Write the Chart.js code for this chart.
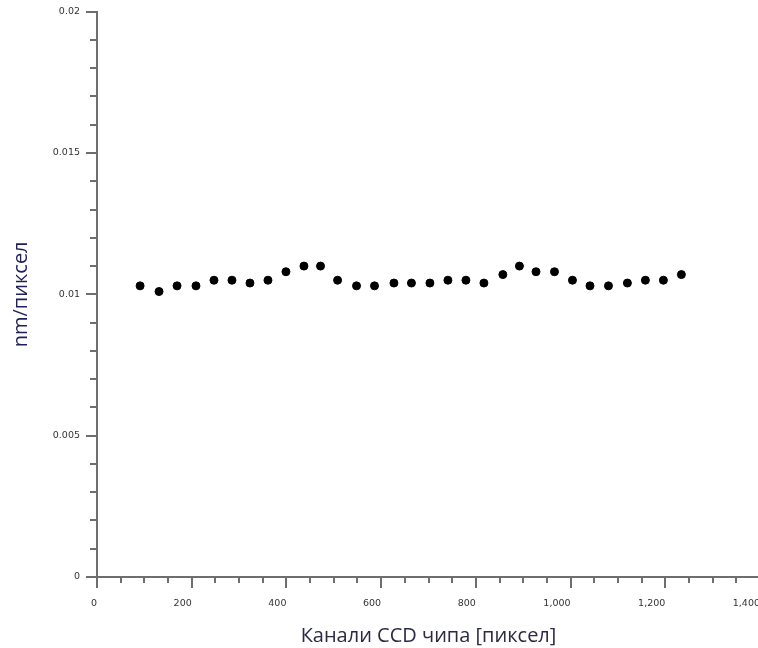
<!DOCTYPE html>
<html>
<head>
<meta charset="utf-8">
<script src="https://cdn.jsdelivr.net/npm/chart.js@4.4.1/dist/chart.umd.min.js"></script>
<style>
  html, body { margin: 0; padding: 0; background: #fff; overflow: hidden; }
  #wrap { position: absolute; left: 0; top: 0; width: 770px; height: 648px; }
</style>
</head>
<body>
<div id="wrap"><canvas id="dispersion" width="770" height="648"></canvas></div>
<script>
// CCD channel (pixel) and dispersion in nm per pixel
const channels = [91, 131, 169, 209, 247, 285, 323, 361, 399, 437, 472, 508, 548, 586, 627, 664,
                  703, 741, 779, 817, 857, 892, 927, 966, 1004, 1041, 1080, 1120, 1158, 1196, 1234];
const nmPerPixel = [0.0103, 0.0101, 0.0103, 0.0103, 0.0105, 0.0105, 0.0104, 0.0105, 0.0108, 0.0110,
                    0.0110, 0.0105, 0.0103, 0.0103, 0.0104, 0.0104, 0.0104, 0.0105, 0.0105, 0.0104,
                    0.0107, 0.0110, 0.0108, 0.0108, 0.0105, 0.0103, 0.0103, 0.0104, 0.0105, 0.0105,
                    0.0107];

// axis ranges and tick steps
const xRange = [0, 1400];
const xMajorStep = 200;
const xMinorStep = 50;
const yRange = [0, 0.02];
const yMajorStep = 0.005;
const yMinorStep = 0.001;

const axisColor = '#6e6e6e';
const tickFont = { family: 'DejaVu Sans', size: 9.5 };
const titleFont = { family: 'Open Sans', size: 20 };

const points = channels.map((c, i) => ({ x: c, y: nmPerPixel[i] }));

// short unlabelled ticks between the labelled ones
const minorTicks = {
    id: 'minorTicks',
    afterDraw(chart) {
        const { ctx, chartArea, scales } = chart;
        ctx.save();
        ctx.strokeStyle = axisColor;
        ctx.lineWidth = 2;
        ctx.beginPath();
        for (let v = xRange[0]; v <= xRange[1]; v += xMinorStep) {
            if (v % xMajorStep === 0) continue;
            const px = Math.round(scales.x.getPixelForValue(v));
            ctx.moveTo(px, chartArea.bottom);
            ctx.lineTo(px, chartArea.bottom + 6);
        }
        const n = Math.round((yRange[1] - yRange[0]) / yMinorStep);
        const per = Math.round(yMajorStep / yMinorStep);
        for (let k = 0; k <= n; k++) {
            if (k % per === 0) continue;
            const py = Math.round(scales.y.getPixelForValue(yRange[0] + k * yMinorStep));
            ctx.moveTo(chartArea.left, py);
            ctx.lineTo(chartArea.left - 7, py);
        }
        ctx.stroke();
        ctx.restore();
    }
};

new Chart(document.getElementById('dispersion'), {
    type: 'scatter',
    data: {
        datasets: [{
            data: points,
            backgroundColor: '#000',
            borderColor: '#000',
            pointRadius: 4,
            pointHoverRadius: 4
        }]
    },
    options: {
        responsive: false,
        animation: false,
        layout: { padding: { top: 9, right: 9, left: 0, bottom: 0 } },
        plugins: { legend: { display: false }, tooltip: { enabled: false } },
        scales: {
            x: {
                type: 'linear',
                min: xRange[0],
                max: xRange[1],
                afterFit(scale) { scale.height = 71; },
                border: { display: true, color: axisColor, width: 2 },
                grid: { drawOnChartArea: false, drawTicks: true, tickLength: 11, color: axisColor, lineWidth: 2 },
                ticks: {
                    stepSize: xMajorStep,
                    autoSkip: false,
                    maxRotation: 0,
                    align: 'end',
                    padding: 10,
                    color: '#333',
                    font: tickFont,
                    callback: v => v.toLocaleString('en-US')
                },
                title: {
                    display: true,
                    text: 'Канали CCD чипа [пиксел]',
                    color: '#2a2a44',
                    font: titleFont,
                    padding: { top: 0, bottom: 0 }
                }
            },
            y: {
                type: 'linear',
                min: yRange[0],
                max: yRange[1],
                afterFit(scale) { scale.width = 97; },
                border: { display: true, color: axisColor, width: 2 },
                grid: { drawOnChartArea: false, drawTicks: true, tickLength: 11, color: axisColor, lineWidth: 2 },
                ticks: {
                    stepSize: yMajorStep,
                    autoSkip: false,
                    padding: 6,
                    color: '#333',
                    font: tickFont,
                    callback: v => String(parseFloat(v.toFixed(4)))
                },
                title: {
                    display: true,
                    text: 'nm/пиксел',
                    color: '#1e1e5a',
                    font: titleFont,
                    padding: { top: 9, bottom: 0 }
                }
            }
        }
    },
    plugins: [minorTicks]
});
</script>
</body>
</html>
